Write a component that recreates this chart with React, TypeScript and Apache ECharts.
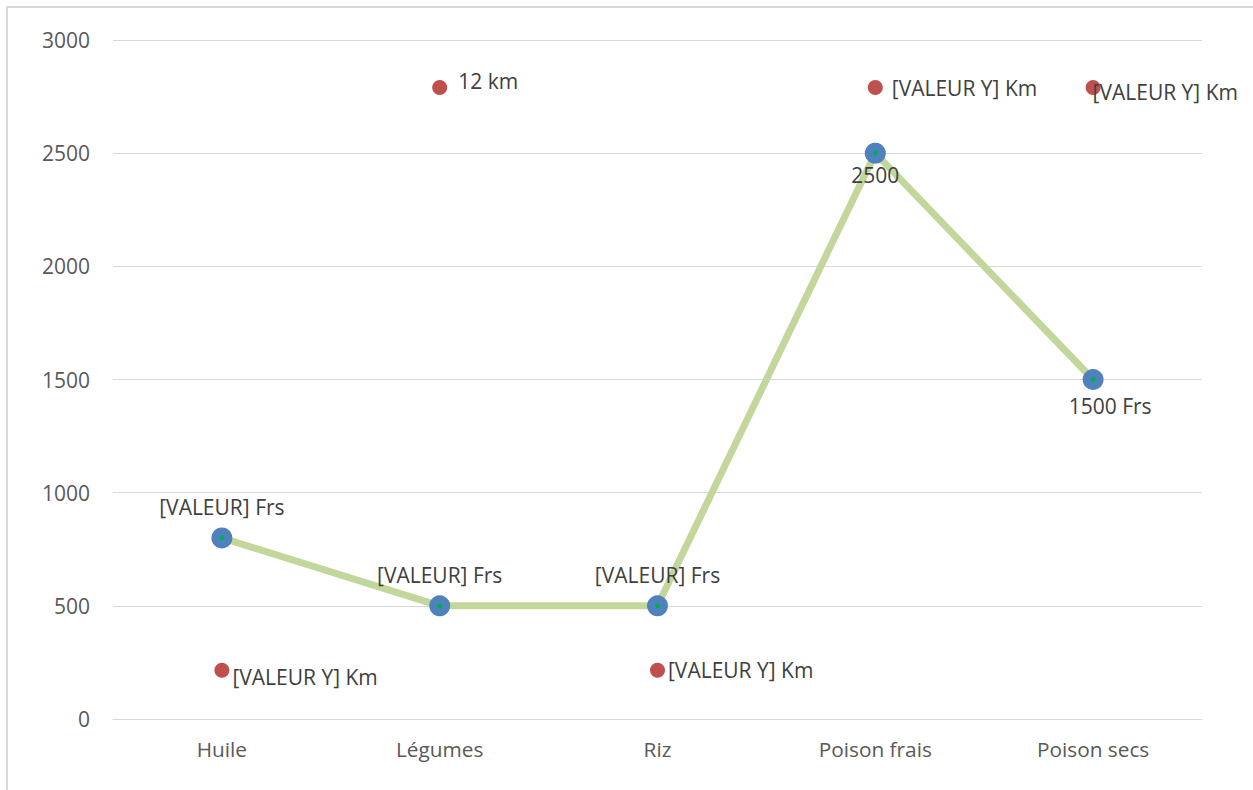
import React, { useEffect, useRef } from "react";
import * as echarts from "echarts";

const categories = ["Huile", "Légumes", "Riz", "Poison frais", "Poison secs"];
const prixValues = [800, 500, 500, 2500, 1500];
const prixLabels = ["[VALEUR] Frs", "[VALEUR] Frs", "[VALEUR] Frs", "2500", "1500 Frs"];
const distanceValues = [215, 2790, 215, 2790, 2790];
const distanceLabels = ["[VALEUR Y] Km", "12 km", "[VALEUR Y] Km", "[VALEUR Y] Km", "[VALEUR Y] Km"];
const yTicks = { min: 0, max: 3000, interval: 500 };

const FONT = "Open Sans";

const prixLabelStyle = [
  { position: "top", distance: 10, offset: [0, 0] },
  { position: "top", distance: 10, offset: [0, 0] },
  { position: "top", distance: 10, offset: [0, 0] },
  { position: "bottom", distance: 1, offset: [0, 0] },
  { position: "bottom", distance: 5, offset: [17, 0] },
];
const distLabelStyle = [
  { position: "right", distance: 3, offset: [0, 7] },
  { position: "right", distance: 3, offset: [8, -7] },
  { position: "right", distance: 3, offset: [0, 0] },
  { position: "right", distance: 3, offset: [6, 0] },
  { position: "right", distance: 3, offset: [-11, 4] },
];

export default function App() {
  const ref = useRef<HTMLDivElement>(null);
  useEffect(() => {
    if (!ref.current) return;
    const chart = echarts.init(ref.current, null, { renderer: "svg" });
    const labelText = { color: "#404040", fontSize: 21, fontFamily: FONT };
    chart.setOption({
      animation: false,
      backgroundColor: "#ffffff",
      graphic: [
        {
          type: "polyline",
          shape: { points: [[7, 800], [7, 7], [1260, 7]] },
          style: { stroke: "#d9d9d9", lineWidth: 2, fill: "none" },
          silent: true,
        },
      ],
      grid: { left: 113, right: 51, top: 40, bottom: 71, containLabel: false },
      xAxis: {
        type: "category",
        data: categories,
        boundaryGap: true,
        axisLine: { show: true, lineStyle: { color: "#d9d9d9", width: 1 } },
        axisTick: { show: false },
        axisLabel: { color: "#595959", fontSize: 20.8, fontFamily: FONT, margin: 19 },
      },
      yAxis: {
        type: "value",
        min: yTicks.min,
        max: yTicks.max,
        interval: yTicks.interval,
        axisLine: { show: false },
        axisTick: { show: false },
        splitLine: { lineStyle: { color: "#d9d9d9", width: 1 } },
        axisLabel: {
          color: "#595959",
          fontSize: 21,
          fontFamily: FONT,
          margin: 23,
          formatter: (v: number) => String(v),
        },
      },
      series: [
        {
          type: "line",
          data: prixValues.map((v, i) => ({
            value: v,
            label: {
              show: true,
              formatter: prixLabels[i],
              ...labelText,
              ...prixLabelStyle[i],
            },
          })),
          lineStyle: { color: "#c3d69b", width: 7 },
          symbol: "circle",
          symbolSize: 21,
          itemStyle: { color: "#4f81bd", opacity: 1 },
          z: 2,
        },
        {
          type: "scatter",
          data: prixValues,
          symbol: "circle",
          symbolSize: 5,
          itemStyle: { color: "#00b050", opacity: 1 },
          z: 3,
          silent: true,
        },
        {
          type: "scatter",
          data: distanceValues.map((v, i) => ({
            value: v,
            label: {
              show: true,
              formatter: distanceLabels[i],
              ...labelText,
              ...distLabelStyle[i],
            },
          })),
          symbol: "circle",
          symbolSize: 15,
          itemStyle: { color: "#c0504d", opacity: 1 },
          z: 4,
        },
      ],
    });
    return () => chart.dispose();
  }, []);
  return (
    <div
      ref={ref}
      style={{ position: "fixed", left: 0, top: 0, width: 1253, height: 790, background: "#fff" }}
    />
  );
}
